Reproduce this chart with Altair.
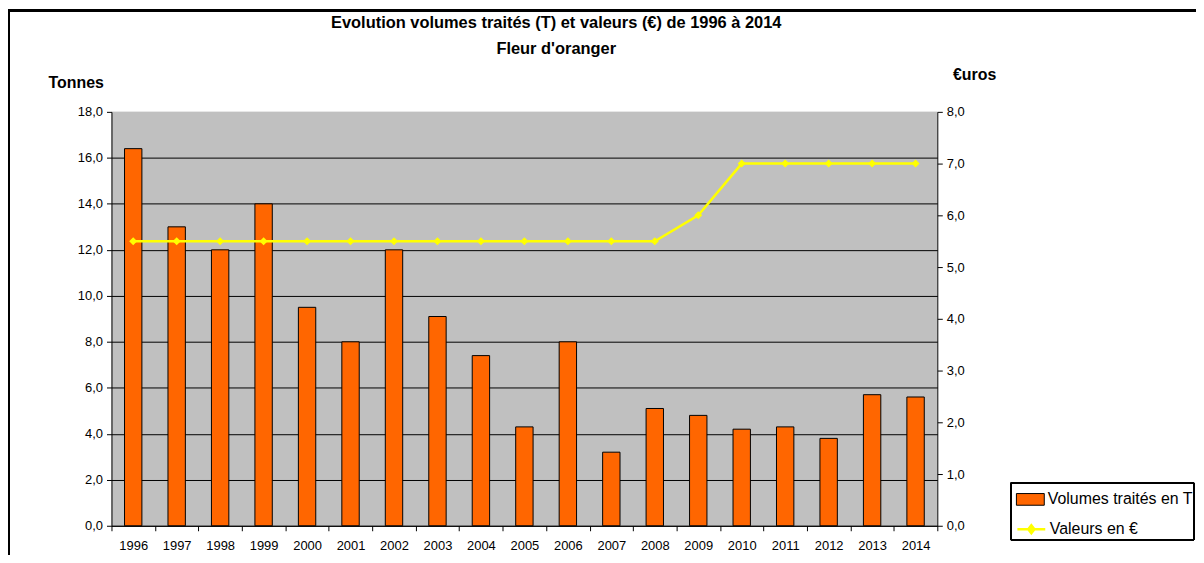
import altair as alt
import pandas as pd

years = ["1996", "1997", "1998", "1999", "2000", "2001", "2002", "2003", "2004", "2005",
         "2006", "2007", "2008", "2009", "2010", "2011", "2012", "2013", "2014"]
volumes = [16.4, 13.0, 12.0, 14.0, 9.5, 8.0, 12.0, 9.1, 7.4, 4.3,
           8.0, 3.2, 5.1, 4.8, 4.2, 4.3, 3.8, 5.7, 5.6]
valeurs = [5.5, 5.5, 5.5, 5.5, 5.5, 5.5, 5.5, 5.5, 5.5, 5.5,
           5.5, 5.5, 5.5, 6.0, 7.0, 7.0, 7.0, 7.0, 7.0]
serie_vol = "Volumes traités en T"
serie_val = "Valeurs en €"
title_main = "Evolution volumes traités (T) et valeurs (€) de 1996 à 2014"
title_sub = "Fleur d'oranger"

df = pd.DataFrame({
    "annee": years,
    "volume": volumes,
    "valeur": valeurs,
    "s1": [serie_vol] * len(years),
    "s2": [serie_val] * len(years),
})

FONT = "Liberation Sans"
fmt = "replace(format(datum.value, '.1f'), '.', ',')"

xenc = alt.X("annee:O", title=None, sort=years,
             scale=alt.Scale(paddingInner=0, paddingOuter=0),
             axis=alt.Axis(labelAngle=0, tickBand="extent", tickSize=5, labelPadding=9,
                           labelFontSize=13, labelColor="black", domainColor="black",
                           tickColor="black", grid=False))

bars = alt.Chart(df).mark_bar(width=alt.RelativeBandSize(0.4), stroke="black", strokeWidth=1).encode(
    x=xenc,
    y=alt.Y("volume:Q", scale=alt.Scale(domain=[0, 18], nice=False),
            axis=alt.Axis(values=list(range(0, 19, 2)), labelExpr=fmt, tickSize=5, labelPadding=4,
                          labelFontSize=13, labelColor="black", domainColor="black", tickColor="black",
                          grid=True,
                          gridColor=alt.condition("datum.value == 18", alt.value("#C0C0C0"), alt.value("black")),
                          gridWidth=1,
                          title="Tonnes", titleAngle=0, titleX=-36, titleY=-29, titleAlign="center",
                          titleBaseline="middle", titleFontSize=16, titleFontWeight="bold",
                          titleColor="black")),
    fill=alt.Fill("s1:N", scale=alt.Scale(range=["#FF6600"]),
                  legend=alt.Legend(title=None, orient="none", legendX=909, legendY=375,
                                    symbolType="M-1,-0.42L1,-0.42L1,0.42L-1,0.42Z", symbolSize=784,
                                    symbolStrokeColor="black", symbolStrokeWidth=1,
                                    labelFontSize=16, labelColor="black", labelOffset=3, padding=0)),
)

line = alt.Chart(df).mark_line(strokeWidth=2.5).encode(
    x=alt.X("annee:O", sort=years),
    y=alt.Y("valeur:Q", scale=alt.Scale(domain=[0, 8], nice=False),
            axis=alt.Axis(orient="right", values=list(range(0, 9)), labelExpr=fmt, tickSize=5,
                          labelPadding=4, labelFontSize=13, labelColor="black", domainColor="black",
                          tickColor="black", grid=False,
                          title="€uros", titleAngle=0, titleX=37, titleY=-38, titleAlign="center",
                          titleBaseline="middle", titleFontSize=16, titleFontWeight="bold",
                          titleColor="black")),
    stroke=alt.Stroke("s2:N", scale=alt.Scale(range=["#FFFF00"]),
                      legend=alt.Legend(title=None, orient="none", legendX=909, legendY=404,
                                        symbolType="M-1,0L1,0M0,-0.28L0.22,0L0,0.28L-0.22,0Z",
                                        symbolSize=784, symbolStrokeWidth=2.5,
                                        symbolFillColor="#FFFF00",
                                        labelFontSize=16, labelColor="black", labelOffset=3, padding=0)),
)

points = alt.Chart(df).mark_point(shape="diamond", filled=True, fill="#FFFF00", size=65, opacity=1).encode(
    x=alt.X("annee:O", sort=years),
    y=alt.Y("valeur:Q", scale=alt.Scale(domain=[0, 8], nice=False), axis=None),
)

legend_box = alt.Chart(df).mark_rect(fillOpacity=0, stroke="black", strokeWidth=1).encode(
    x=alt.value(904), x2=alt.value(1088), y=alt.value(373), y2=alt.value(430))

outer = alt.Chart(df).mark_rect(fillOpacity=0, stroke="black", strokeWidth=2).encode(
    x=alt.value(-103), x2=alt.value(1300), y=alt.value(-102), y2=alt.value(700))

chart = alt.layer(bars, line, points, legend_box, outer).resolve_scale(
    y="independent"
).properties(
    width=830, height=416,
    padding={"left": 104, "top": 103, "right": 260, "bottom": 28},
    autosize=alt.AutoSizeParams(type="none"),
    title=alt.TitleParams(text=title_main, subtitle=title_sub, fontSize=16.5, subtitleFontSize=16.5,
                          fontWeight="bold", subtitleFontWeight="bold", font=FONT, subtitleFont=FONT,
                          color="black", subtitleColor="black", anchor="middle", frame="group",
                          dx=32, dy=48, offset=0, subtitlePadding=9),
).configure(font=FONT).configure_view(fill="#C0C0C0", strokeWidth=0)

chart.save("out.html", embed_options={"renderer": "svg", "actions": False})
